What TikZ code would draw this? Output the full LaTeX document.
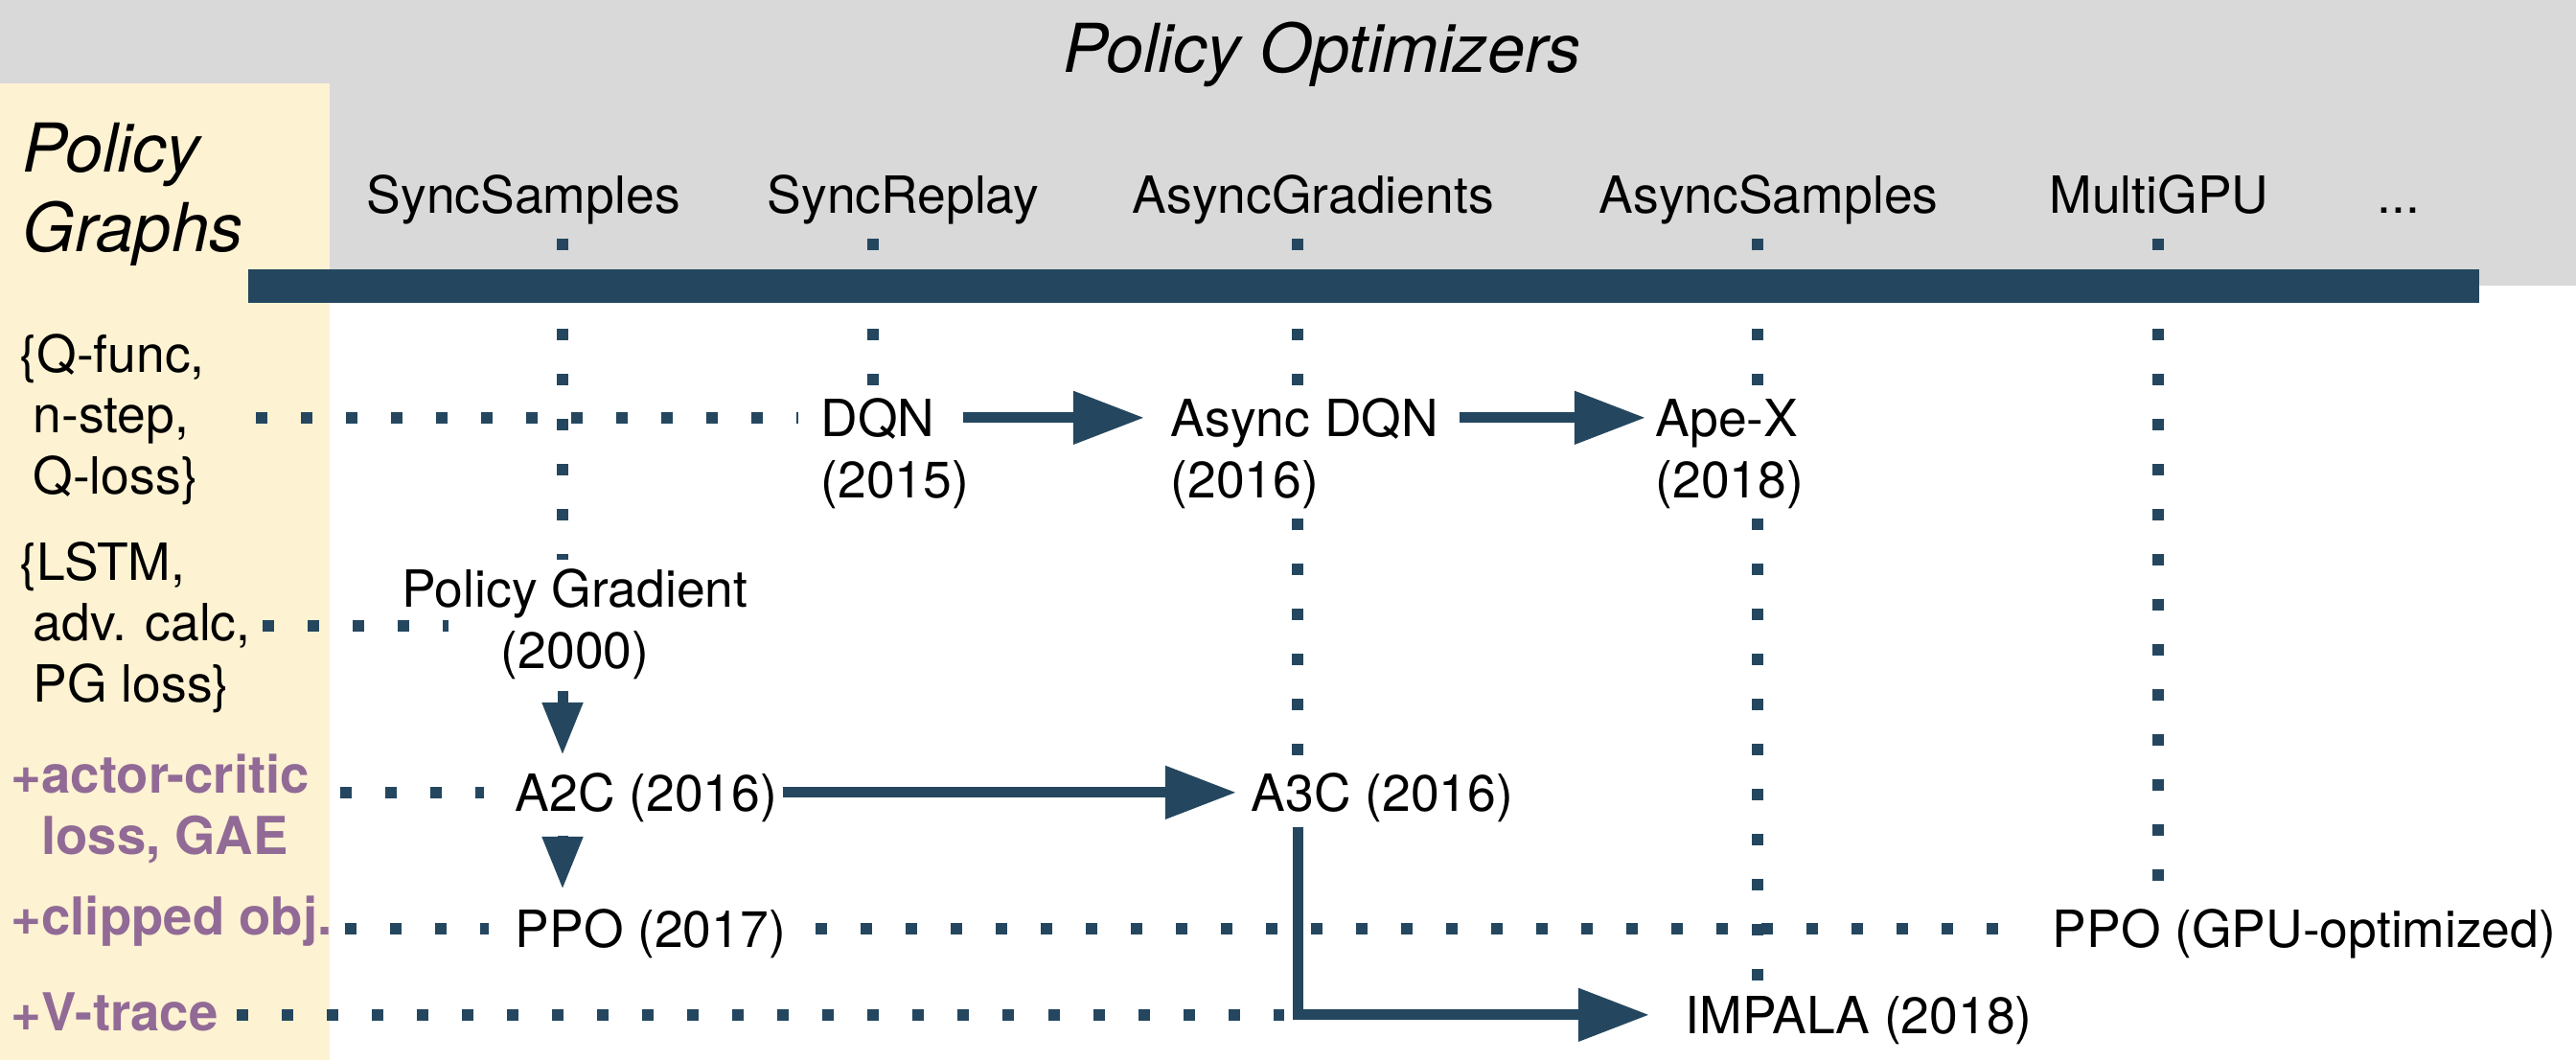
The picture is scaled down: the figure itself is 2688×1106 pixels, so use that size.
\documentclass[tikz,border=0pt]{standalone}
\usepackage{fontspec}
\setmainfont{TeX Gyre Heros}
\usetikzlibrary{arrows.meta,calc}
\definecolor{navy}{RGB}{36,71,95}
\definecolor{pgray}{RGB}{217,217,217}
\definecolor{pyellow}{RGB}{253,242,210}
\definecolor{ppurple}{RGB}{145,106,150}
\newcommand{\mlines}[1]{\begin{tabular}[t]{@{}l@{}}#1\end{tabular}}
\begin{document}
\begin{tikzpicture}[x=0.01cm,y=-0.01cm,
  txt/.style={font=\fontsize{15.2pt}{18.15pt}\selectfont, inner sep=0pt, anchor=base west},
  gnode/.style={txt, text height=10.9pt, text depth=0pt},
  ttl/.style={font=\fontsize{20pt}{23.8pt}\selectfont\itshape, inner sep=0pt, anchor=base west},
  addlab/.style={txt, font=\fontsize{15.5pt}{18.4pt}\selectfont\bfseries, text=ppurple},
  dotline/.style={draw=navy, line width=0.12cm, dash pattern=on 0.12cm off 0.35cm, line cap=butt},
  flow/.style={draw=navy, line width=0.11cm, line join=miter, line cap=butt, -{Triangle[length=0.74cm,width=0.53cm]}},
  flowv/.style={draw=navy, line width=0.11cm, line cap=butt, -{Triangle[length=0.55cm,width=0.40cm]}},
]
\useasboundingbox (0,0) rectangle (2688,1106);
% backgrounds
\fill[pgray] (0,0) rectangle (2688,298);
\fill[pyellow] (0,87) rectangle (344,1106);

% titles
\node[ttl] (title) at (1109,75) {Policy Optimizers};
\node[ttl] (pgraphs) at (23,179) {\mlines{Policy\\Graphs}};

% column headers
\node[txt] (hSS) at (382,222) {SyncSamples};
\node[txt] (hSR) at (800,222) {SyncReplay};
\node[txt] (hAG) at (1181,222) {AsyncGradients};
\node[txt] (hAS) at (1668,222) {AsyncSamples};
\node[txt] (hMG) at (2138,222) {MultiGPU};
\node[txt] (hmore) at (2480,222) {...};

\coordinate (cSS) at (587,249);
\coordinate (cSR) at (911,249);
\coordinate (cAG) at (1354,249);
\coordinate (cAS) at (1834,249);
\coordinate (cMG) at (2252,249);

% row labels
\node[txt] (qlab) at (20,388) {\mlines{\{Q-func,\\\hspace*{0.26em}n-step,\\\hspace*{0.26em}Q-loss\}}};
\node[txt] (llab) at (20,605) {\mlines{\{LSTM,\\\hspace*{0.26em}adv. calc,\\\hspace*{0.26em}PG loss\}}};
\node[addlab] (aclab) at (11,827) {\mlines{+actor-critic\\\phantom{+}loss, GAE}};
\node[addlab] (cllab) at (11,975) {+clipped obj.};
\node[addlab] (vtlab) at (11,1075) {+V-trace};

% algorithm nodes
\node[gnode] (dqn) at (856,455) {DQN};
\node[gnode] (dqnyear) at (856,519) {(2015)};
\node[gnode] (adqn) at (1221,455) {Async DQN};
\node[gnode] (adqnyear) at (1221,519) {(2016)};
\node[gnode] (apex) at (1727,455) {Ape-X};
\node[gnode] (apexyear) at (1727,519) {(2018)};
\node[gnode, anchor=base] (pg) at (600,633) {Policy Gradient};
\node[gnode, anchor=base] (pgyear) at (600,697) {(2000)};
\node[gnode] (a2c) at (537,846) {A2C (2016)};
\node[gnode] (a3c) at (1305,846) {A3C (2016)};
\node[gnode] (ppo) at (537,988) {PPO (2017)};
\node[gnode] (ppogpu) at (2141,988) {PPO (GPU-optimized)};
\node[gnode] (impala) at (1758,1078) {IMPALA (2018)};

% vertical dotted columns
\draw[dotline, shorten >=0.1cm] (cSS) -- (cSS |- pg.north);
\draw[dotline, shorten >=0.1cm] (cSR) -- (cSR |- dqn.north);
\draw[dotline, shorten >=0.1cm] (cAG) -- (cAG |- adqn.north);
\draw[dotline, shorten <=0.21cm, shorten >=0.1cm] (cAG |- adqnyear.south) -- (cAG |- a3c.north);
\draw[dotline, shorten >=0.1cm] (cAS) -- (cAS |- apex.north);
\draw[dotline, shorten <=0.21cm, shorten >=0.1cm] (cAS |- apexyear.south) -- (cAS |- impala.north);
\draw[dotline, shorten >=0.1cm] (cMG) -- (cMG |- ppogpu.north);

% horizontal dotted rows
\coordinate (qs) at (267,0);
\coordinate (ls) at (274,653);
\coordinate (le) at (468,653);
\coordinate (as) at (355,0);
\coordinate (ps) at (360,0);
\coordinate (vs) at (247,0);
\draw[dotline, shorten >=0.23cm] (qs |- dqn.west) -- (dqn.west);
\draw[dotline] (ls) -- (le);
\draw[dotline, shorten >=0.32cm] (as |- a2c.west) -- (a2c.west);
\draw[dotline, shorten >=0.27cm] (ps |- ppo.west) -- (ppo.west);
\draw[dotline, shorten <=0.3cm, shorten >=0.3cm] (ppo.east) -- (ppogpu.west);
\draw[dotline] (vs |- impala.west) -- ($(cAG |- impala.west)+(-14,0)$);

% bar
\fill[navy] (259,281) rectangle (2587,316);

% solid arrows
\draw[flow, shorten <=0.29cm, shorten >=0.27cm] (dqn.east) -- (adqn.west);
\draw[flow, shorten <=0.21cm, shorten >=0.10cm] (adqn.east) -- (apex.west);
\draw[flow, shorten <=0.05cm, shorten >=0.15cm] (a2c.east) -- (a3c.west);
\draw[flow, shorten <=0.16cm, shorten >=0.37cm] (cAG |- a3c.south) |- (impala.west);
\draw[flowv, shorten <=0.23cm, shorten >=0.19cm] (cSS |- pgyear.south) -- (cSS |- a2c.north);
\draw[flowv, shorten <=0.25cm, shorten >=0.21cm] (cSS |- a2c.south) -- (cSS |- ppo.north);
\end{tikzpicture}
\end{document}
